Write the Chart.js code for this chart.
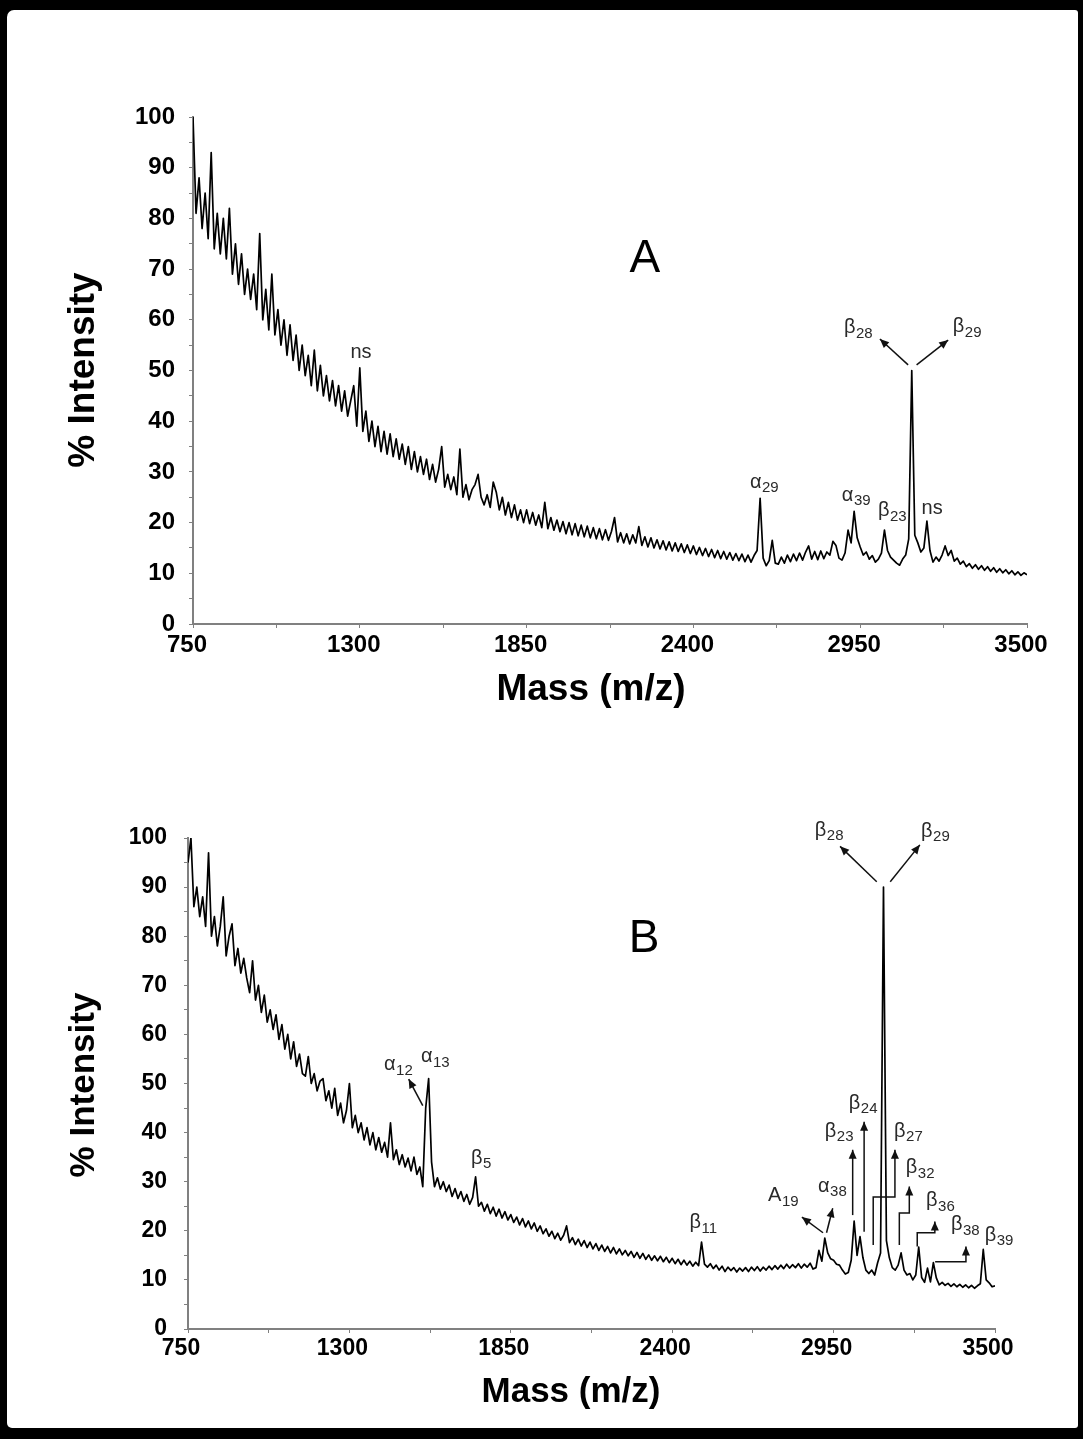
<!DOCTYPE html>
<html>
<head>
<meta charset="utf-8">
<script src="https://cdn.jsdelivr.net/npm/chart.js@4.4.0/dist/chart.umd.min.js"></script>
<style>
  html, body { margin: 0; padding: 0; background: #fff; }
  #wrap { position: relative; width: 1083px; height: 1439px; overflow: hidden; background: #000; }
  #paper { position: absolute; left: 7px; top: 10px; width: 1071px; height: 1418px; background: #fff; border-radius: 7px 3px 3px 5px; }
  canvas { position: absolute; left: 0; }
</style>
</head>
<body>
<div id="wrap">
  <div id="paper"></div>
  <canvas id="chartA" width="1083" height="715" style="top:0"></canvas>
  <canvas id="chartB" width="1083" height="719" style="top:720px"></canvas>
</div>
<script>
// m/z sampling positions (shared by both spectra)
const massAxis = [
  750,760,770,780,790,800,810,820,830,840,
  850,860,870,880,890,900,910,920,930,940,
  950,960,970,980,990,1000,1010,1020,1030,1040,
  1050,1060,1070,1080,1090,1100,1110,1120,1130,1140,
  1150,1160,1170,1180,1190,1200,1210,1220,1230,1240,
  1250,1260,1270,1280,1290,1300,1310,1320,1330,1340,
  1350,1360,1370,1380,1390,1400,1410,1420,1430,1440,
  1450,1460,1470,1480,1490,1500,1510,1520,1530,1540,
  1550,1560,1570,1580,1590,1600,1610,1620,1630,1640,
  1650,1660,1670,1680,1690,1700,1710,1720,1730,1740,
  1750,1760,1770,1780,1790,1800,1810,1820,1830,1840,
  1850,1860,1870,1880,1890,1900,1910,1920,1930,1940,
  1950,1960,1970,1980,1990,2000,2010,2020,2030,2040,
  2050,2060,2070,2080,2090,2100,2110,2120,2130,2140,
  2150,2160,2170,2180,2190,2200,2210,2220,2230,2240,
  2250,2260,2270,2280,2290,2300,2310,2320,2330,2340,
  2350,2360,2370,2380,2390,2400,2410,2420,2430,2440,
  2450,2460,2470,2480,2490,2500,2510,2520,2530,2540,
  2550,2560,2570,2580,2590,2600,2610,2620,2630,2640,
  2650,2660,2670,2680,2690,2700,2710,2720,2730,2740,
  2750,2760,2770,2780,2790,2800,2810,2820,2830,2840,
  2850,2860,2870,2880,2890,2900,2910,2920,2930,2940,
  2950,2960,2970,2980,2990,3000,3010,3020,3030,3040,
  3050,3060,3070,3080,3090,3100,3110,3120,3130,3140,
  3150,3160,3170,3180,3190,3200,3210,3220,3230,3240,
  3250,3260,3270,3280,3290,3300,3310,3320,3330,3340,
  3350,3360,3370,3380,3390,3400,3410,3420,3430,3440,
  3450,3460,3470,3480,3490,3500
];

// spectrum A, % intensity
const intensityA = [
  100,81,88,78,85,76,93,74,81,73,
  80,72,82,69,75,67,73,65,70,64,
  69,62,77,60,66,58,69,57,62,55,
  60,53,59,52,57,50,55,49,53,47,
  54,46,51,45,49,44,48,43,47,42,
  46,41,44,47,39,50.5,38,42,36,40,
  35,39,34,38,33.5,37.5,33,36.5,32.5,35.5,
  31.5,35,30.5,34,30,33,29.5,32.5,28.5,31.5,
  28,30.5,35,27,29.5,26.5,29,25.5,34.5,25,
  27.5,24.5,26.5,27.5,29.5,25,23.5,25.5,23,28,
  26,22.5,25,21.5,24,21,23.5,20.5,22.5,20,
  22.5,19.8,22,19.5,21.5,19,24,18.8,21,18.5,
  20.5,18.2,20.2,17.8,20,17.6,19.8,17.4,19.5,17.2,
  19.3,17,19,16.8,18.8,16.6,18.6,16.5,18.3,21,
  16.2,18,16,17.8,15.8,17.6,16,19.2,15.5,17.2,
  15.2,17,15,16.6,14.8,16.4,14.6,16.2,14.4,16,
  14.3,15.8,14.1,15.6,13.9,15.4,13.7,15.1,13.5,14.9,
  13.3,14.7,13.1,14.5,12.9,14.3,12.8,14.1,12.6,13.9,
  12.5,13.8,12.3,13.6,12.2,13.5,14.5,24.8,13,11.5,
  12.5,16.5,12,11.8,13.2,12,13.6,12.3,13.8,12.5,
  14,12.6,14.2,15.4,12.8,14.3,12.7,14.4,12.9,14.2,
  13.6,16.3,15.5,13,12.6,14,18.5,16,22.2,17,
  15.2,13.6,14.2,12.8,13.5,12.2,12.8,14,18.5,14.5,
  13.2,12.6,12,11.6,12.8,13.6,16.8,50,17.5,16,
  14.2,15,20.3,14.5,12.2,13.2,12.4,13.6,15.4,13.5,
  14.5,12.4,13,11.8,12.4,11.3,11.9,11,11.7,10.8,
  11.5,10.6,11.3,10.4,11.1,10.2,10.9,10.1,10.7,9.9,
  10.5,9.7,10.3,9.6,10.1,9.7
];

// spectrum B, % intensity
const intensityB = [
  95,100,86,90,84,88,82,97,80,84,
  78,82,88,76,80,82.5,74,77.5,72.5,75.5,
  71.5,68.5,75,67,70,64.5,68,62.5,65,61,
  64,59,62,57,60,55,58.5,53.5,56,52,
  51.5,55.5,50,52,48.5,50.5,51,46.5,48.5,45,
  49,43.5,46,42,44.5,50,41,43.5,40,42,
  38.5,41,37.5,40,36.5,39,36,38,35,42,
  34.5,36.5,33.5,35.5,33,34.8,32.2,35,31.5,33,
  29,45,51,34,29,30.8,28.5,30,28,29.3,
  27,28.6,26.6,28,26,27.4,25.4,26.8,31,25,
  25.8,24,25.4,23.5,24.8,23,24.4,22.6,23.9,22.2,
  23.3,21.7,22.8,21.2,22.5,20.8,22,20.4,21.6,19.9,
  21,19.4,20.4,18.9,19.9,18.4,19.5,18.1,19.1,21,
  17.6,18.6,17.2,18.3,16.9,18,16.6,17.7,16.3,17.4,
  16,17.1,15.8,16.8,15.5,16.6,15.3,16.3,15.1,16,
  14.9,15.8,14.6,15.6,14.4,15.4,14.2,15.1,14,14.9,
  13.9,14.8,13.7,14.6,13.5,14.4,13.3,14.2,13.1,14,
  13,13.8,12.8,13.6,12.9,17.7,13.2,12.6,13.3,12.3,
  13,12,12.8,11.7,12.6,11.9,12.5,11.6,12.4,11.8,
  12.5,11.7,12.6,11.9,12.7,11.8,12.6,12,12.8,12.1,
  12.9,12.2,13,12.3,13.2,12.4,13.1,12.5,13.3,12.4,
  13.2,12.6,13.4,12.2,12.5,16,13.8,18.5,15.5,14.3,
  14,13.2,13,12,11.2,11.5,14,22,15,18.8,
  14.5,12,11.3,12,11,13.5,15.5,90,18,14.5,
  12.5,12,13,15.5,12,11,11.3,10,11,16.7,
  10.5,9.5,12.4,9.6,13.5,10.4,9,9.5,8.9,9.3,
  8.7,9.2,8.6,9.1,8.5,9,8.4,8.9,8.3,8.8,
  9.2,16.2,10,9.4,8.6,8.8
];

// axis ticks
const xTickMarks = [750,1025,1300,1575,1850,2125,2400,2675,2950,3225,3500];
const xTickLabels = [750,1300,1850,2400,2950,3500];
const yTickMarks = [0,5,10,15,20,25,30,35,40,45,50,55,60,65,70,75,80,85,90,95,100];
const yTickLabels = [0,10,20,30,40,50,60,70,80,90,100];

// peak labels: [symbol, subscript, m/z, intensity]
const peakLabelsA = [
  ['ns','',1304,53.2], ['α','29',2633,27.6], ['α','39',2936,25],
  ['β','23',3055,21.9], ['ns','',3187,22.3], ['β','28',2943,58], ['β','29',3302,58.2]
];
const peakLabelsB = [
  ['α','12',1466,53.4], ['α','13',1592,55], ['β','5',1748,34.4], ['β','11',2505,21.3],
  ['A','19',2778,26.7], ['α','38',2945,28.7], ['β','23',2968,39.9], ['β','24',3050,45.6],
  ['β','27',3204,39.9], ['β','32',3244,32.4], ['β','36',3313,25.7], ['β','38',3398,20.8],
  ['β','39',3513,18.7], ['β','28',2934,101.2], ['β','29',3296,101]
];
// arrows: lists of [m/z, intensity] points, head at the last point
const arrowsA = [
  [[3108,51.1],[3015,56.2]],
  [[3136,51.1],[3240,56]]
];
const arrowsB = [
  [[1550,45.5],[1502,50.9]],
  [[2914,19.6],[2842,22.8]],
  [[2926,19.6],[2947,24.6]],
  [[3015,23.2],[3015,36.5]],
  [[3054,19.8],[3054,42.2]],
  [[3085,17.1],[3085,26.9],[3159,26.9],[3159,36.5]],
  [[3174,17.1],[3174,23.6],[3208,23.6],[3208,29]],
  [[3235,16.8],[3235,19.6],[3295,19.6],[3295,21.9]],
  [[3296,13.7],[3401,13.7],[3401,16.8]],
  [[3097,91.1],[2972,98.3]],
  [[3143,91.1],[3244,98.6]]
];

const FONT = '"Liberation Sans", Arial, Helvetica, sans-serif';

// draws panel letter, axis titles, peak labels and arrows
const overlay = {
  id: 'overlay',
  afterDatasetsDraw(chart, args, o) {
    const ctx = chart.ctx;
    const xs = chart.scales.x, ys = chart.scales.y;
    const px = m => xs.getPixelForValue(m);
    const py = v => ys.getPixelForValue(v);
    ctx.save();
    ctx.fillStyle = '#000';
    ctx.textAlign = 'center';
    ctx.textBaseline = 'middle';

    ctx.font = '46px ' + FONT;
    ctx.fillText(o.letter[0], px(o.letter[1]), py(o.letter[2]));

    ctx.font = 'bold ' + o.xTitleSize + 'px ' + FONT;
    ctx.fillText('Mass (m/z)', o.xTitle[0], o.xTitle[1]);
    ctx.save();
    ctx.font = 'bold ' + o.yTitleSize + 'px ' + FONT;
    ctx.translate(o.yTitle[0], o.yTitle[1]);
    ctx.rotate(-Math.PI / 2);
    ctx.fillText('% Intensity', 0, 0);
    ctx.restore();

    // arrows
    ctx.strokeStyle = '#111';
    ctx.fillStyle = '#111';
    ctx.lineWidth = 1.5;
    o.arrows.forEach(path => {
      const pts = path.map(p => [px(p[0]), py(p[1])]);
      ctx.beginPath();
      pts.forEach((p, i) => i ? ctx.lineTo(p[0], p[1]) : ctx.moveTo(p[0], p[1]));
      ctx.stroke();
      const [x2, y2] = pts[pts.length - 1], [x1, y1] = pts[pts.length - 2];
      const a = Math.atan2(y2 - y1, x2 - x1), L = 9, W = 4;
      ctx.beginPath();
      ctx.moveTo(x2, y2);
      ctx.lineTo(x2 - L * Math.cos(a) + W * Math.sin(a), y2 - L * Math.sin(a) - W * Math.cos(a));
      ctx.lineTo(x2 - L * Math.cos(a) - W * Math.sin(a), y2 - L * Math.sin(a) + W * Math.cos(a));
      ctx.closePath();
      ctx.fill();
    });

    // peak labels
    ctx.fillStyle = '#2a2a2a';
    ctx.textAlign = 'left';
    o.labels.forEach(([t, s, m, v]) => {
      ctx.font = '20px ' + FONT;
      const w1 = ctx.measureText(t).width;
      ctx.font = '15px ' + FONT;
      const w2 = s ? ctx.measureText(s).width : 0;
      const x0 = px(m) - (w1 + w2) / 2, y0 = py(v);
      ctx.font = '20px ' + FONT;
      ctx.fillText(t, x0, y0 - 2);
      if (s) {
        ctx.font = '15px ' + FONT;
        ctx.fillText(s, x0 + w1 + 0.5, y0 + 4);
      }
    });
    ctx.restore();
  }
};

function buildChart(id, values, o) {
  return new Chart(document.getElementById(id), {
    type: 'line',
    data: {
      datasets: [{
        data: massAxis.map((m, i) => ({ x: m, y: values[i] })),
        borderColor: '#000',
        borderWidth: 1.7,
        borderJoinStyle: 'round',
        pointRadius: 0,
        fill: false,
        tension: 0
      }]
    },
    options: {
      responsive: false,
      animation: false,
      devicePixelRatio: 1,
      layout: { padding: o.pad },
      plugins: { legend: { display: false }, tooltip: { enabled: false }, overlay: o.overlay },
      scales: {
        x: {
          type: 'linear', min: 750, max: 3500,
          afterBuildTicks: s => { s.ticks = xTickMarks.map(v => ({ value: v })); },
          afterFit: s => { s.height = o.xH; s.paddingLeft = 0; s.paddingRight = 0; },
          ticks: {
            autoSkip: false, maxRotation: 0, padding: o.xPad, color: '#000',
            labelOffset: o.xShift,
            font: { family: FONT, size: o.tick, weight: 'bold' },
            callback: v => xTickLabels.includes(v) ? String(v) : ''
          },
          grid: { drawOnChartArea: false, tickLength: 4, color: '#808080' },
          border: { color: '#808080', width: 2 }
        },
        y: {
          min: 0, max: 100,
          afterBuildTicks: s => { s.ticks = yTickMarks.map(v => ({ value: v })); },
          afterFit: s => { s.width = o.yW; s.paddingTop = 0; s.paddingBottom = 0; },
          ticks: {
            autoSkip: false, padding: o.yPad, color: '#000',
            font: { family: FONT, size: o.tick, weight: 'bold' },
            callback: v => yTickLabels.includes(v) ? String(v) : ''
          },
          grid: { drawOnChartArea: false, tickLength: 4, color: '#808080' },
          border: { color: '#808080', width: 2 }
        }
      }
    },
    plugins: [overlay]
  });
}

buildChart('chartA', intensityA, {
  pad: { left: 20, right: 56, top: 117, bottom: 0 },
  yW: 173, xH: 91, tick: 24, xPad: 3, yPad: 14, xShift: -6,
  overlay: {
    letter: ['A', 2240, 72],
    xTitle: [591, 690], xTitleSize: 37,
    yTitle: [84, 370], yTitleSize: 37,
    labels: peakLabelsA, arrows: arrowsA
  }
});

buildChart('chartB', intensityB, {
  pad: { left: 20, right: 88, top: 118, bottom: 0 },
  yW: 168, xH: 110, tick: 23, xPad: 2, yPad: 17, xShift: -7,
  overlay: {
    letter: ['B', 2304, 79.4],
    xTitle: [571, 672], xTitleSize: 35,
    yTitle: [84, 365], yTitleSize: 35,
    labels: peakLabelsB, arrows: arrowsB
  }
});
</script>
</body>
</html>
